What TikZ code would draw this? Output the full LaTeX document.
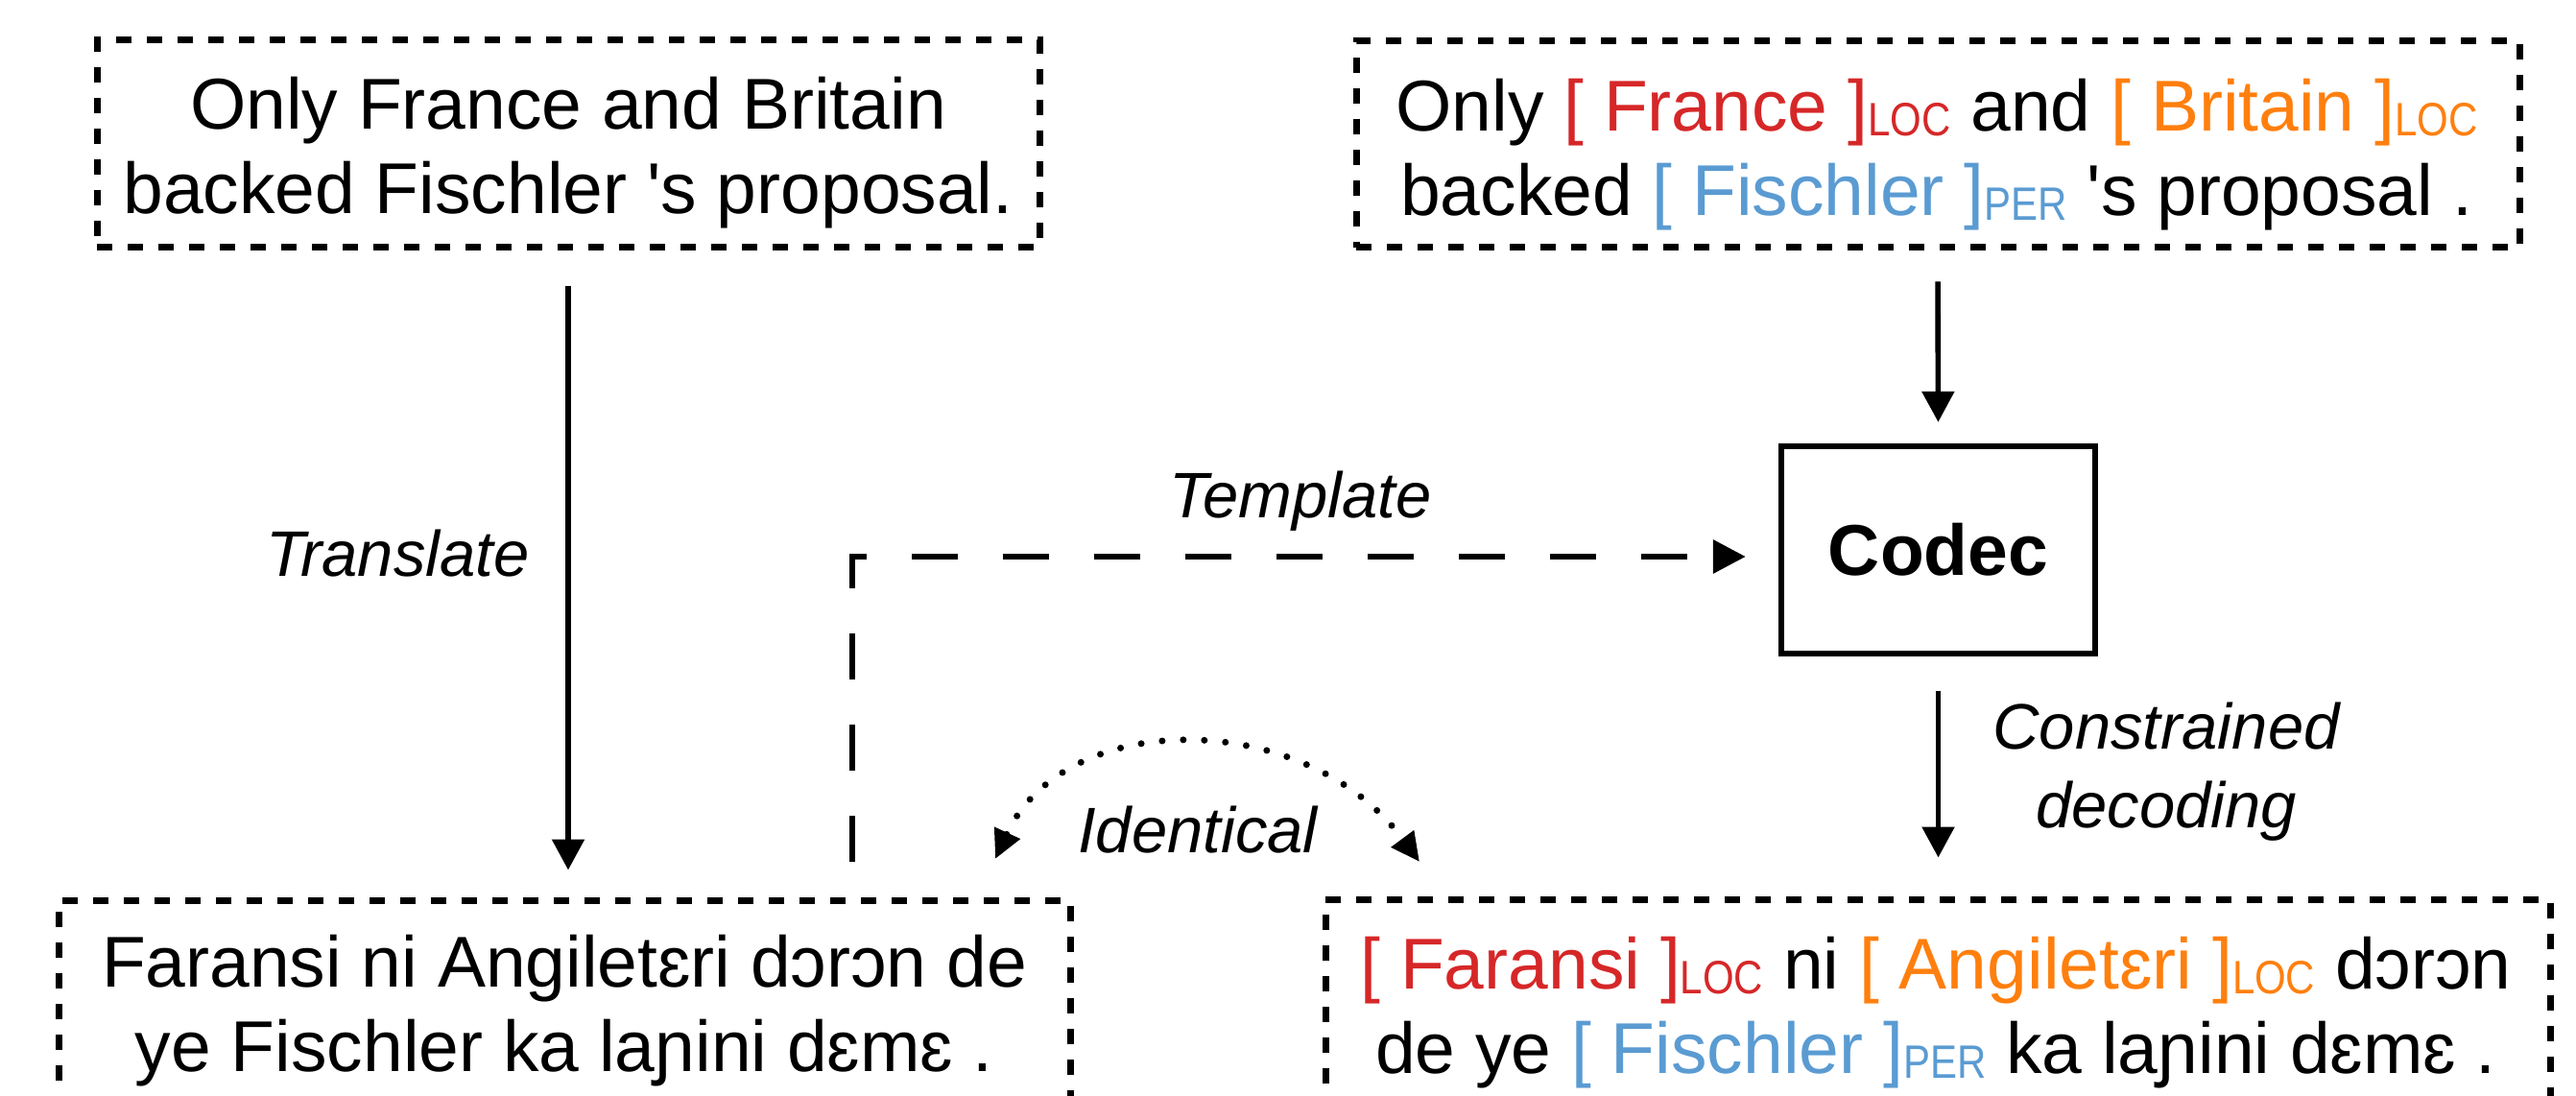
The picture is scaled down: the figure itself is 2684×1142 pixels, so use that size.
\documentclass[tikz,border=0pt]{standalone}
\usepackage{fontspec}
\setmainfont{Liberation Sans}
\newfontfamily\subfont[FakeStretch=0.86]{Liberation Sans}
\usetikzlibrary{arrows.meta}
\definecolor{tagred}{RGB}{214,39,40}
\definecolor{tagorange}{RGB}{255,127,14}
\definecolor{tagblue}{RGB}{90,155,210}
\newcommand\tagsub[1]{\raisebox{-1.25pt}{\subfont\fontsize{12.2}{12.2}\selectfont #1}}
\newcommand\ent[3]{\textcolor{#1}{[ #2 ]\tagsub{#3}}}
\begin{document}
\begin{tikzpicture}[x=0.25pt,y=-0.25pt,
  dbox/.style={draw, line width=1.75pt, dash pattern=on 4pt off 4pt, rectangle, inner sep=0pt},
  cbox/.style={draw, line width=1.6pt, rectangle, inner sep=0pt, minimum width=81.75pt, minimum height=54pt},
  maintxt/.style={font=\fontsize{18.75}{22}\selectfont, inner sep=0pt, anchor=base},
  lbl/.style={font=\itshape\fontsize{16.75}{20.5}\selectfont, inner sep=0pt, anchor=base},
  arr/.style={line width=1.4pt, -{Triangle[length=8pt,width=8.25pt]}},
  tmpl/.style={line width=1.6pt, dash pattern=on 12pt off 11.75pt, -{Triangle[length=8.5pt,width=8.5pt]}},
  dotarc/.style={line width=1.75pt, line cap=round, dash pattern=on 0pt off 5.5pt,
     {Triangle[length=7.5pt,width=7pt]}-{Triangle[length=7.5pt,width=7pt]}}
]
\useasboundingbox (0,0) rectangle (2684,1142);
\clip (0,0) rectangle (2684,1142);

% boxes
\node[dbox, minimum width=245.5pt, minimum height=54pt] (tl) at (592,150) {};
\node[dbox, minimum width=303pt, minimum height=53.75pt] (tr) at (2019,150.5) {};
\node[dbox, minimum width=263.5pt, minimum height=70pt] (bl) at (588,1078) {};
\node[dbox, minimum width=319pt, minimum height=70pt] (br) at (2019,1077) {};
\node[cbox, font=\bfseries\fontsize{18.75}{22}\selectfont] (codec) at (2019.5,573) {Codec};

% box texts
\node[maintxt] (tltext) at (592,135) {\begin{tabular}[t]{@{}c@{}}Only France and Britain\\backed Fischler \textquotesingle s proposal.\end{tabular}};
\node[maintxt] (trtext) at (2018,137) {\begin{tabular}[t]{@{}c@{}}Only \ent{tagred}{France}{LOC} and \ent{tagorange}{Britain}{LOC}\\backed \ent{tagblue}{Fischler}{PER} \textquotesingle s proposal .\end{tabular}};
\node[maintxt] (bltext) at (588,1028) {\begin{tabular}[t]{@{}c@{}}Faransi ni Angiletɛri dɔrɔn de\\ye Fischler ka laɲini dɛmɛ .\end{tabular}};
\node[maintxt] (brtext) at (2017,1030) {\begin{tabular}[t]{@{}c@{}}\ent{tagred}{Faransi}{LOC} ni \ent{tagorange}{Angiletɛri}{LOC} dɔrɔn\\de ye \ent{tagblue}{Fischler}{PER} ka laɲini dɛmɛ .\end{tabular}};

% labels
\node[lbl] (ltranslate) at (414.5,600) {Translate};
\node[lbl] (ltemplate) at (1355,540) {Template};
\node[lbl] (lidentical) at (1248,888) {Identical};
\node[lbl] (lconstrained) at (2257,780) {\begin{tabular}[t]{@{}c@{}}Constrained\\decoding\end{tabular}};

% connectors
\draw[arr, shorten <=9.25pt, shorten >=7pt] (tl.south) -- (tl.south |- bl.north);
\draw[arr, shorten <=8pt, shorten >=5.5pt] (tr.south) -- (codec.north);
\draw[arr, shorten <=9pt, shorten >=10pt] (codec.south) -- (codec.south |- br.north);
\coordinate (tstart) at (888,898);
\draw[tmpl, shorten >=8.5pt] (tstart) |- ([yshift=-1.75pt]codec.west);
\coordinate (idl) at (1037,895);
\coordinate (idr) at (1479,898);
\draw[dotarc] (idl) .. controls (1110,737) and (1360,737) .. (idr);
\end{tikzpicture}
\end{document}
